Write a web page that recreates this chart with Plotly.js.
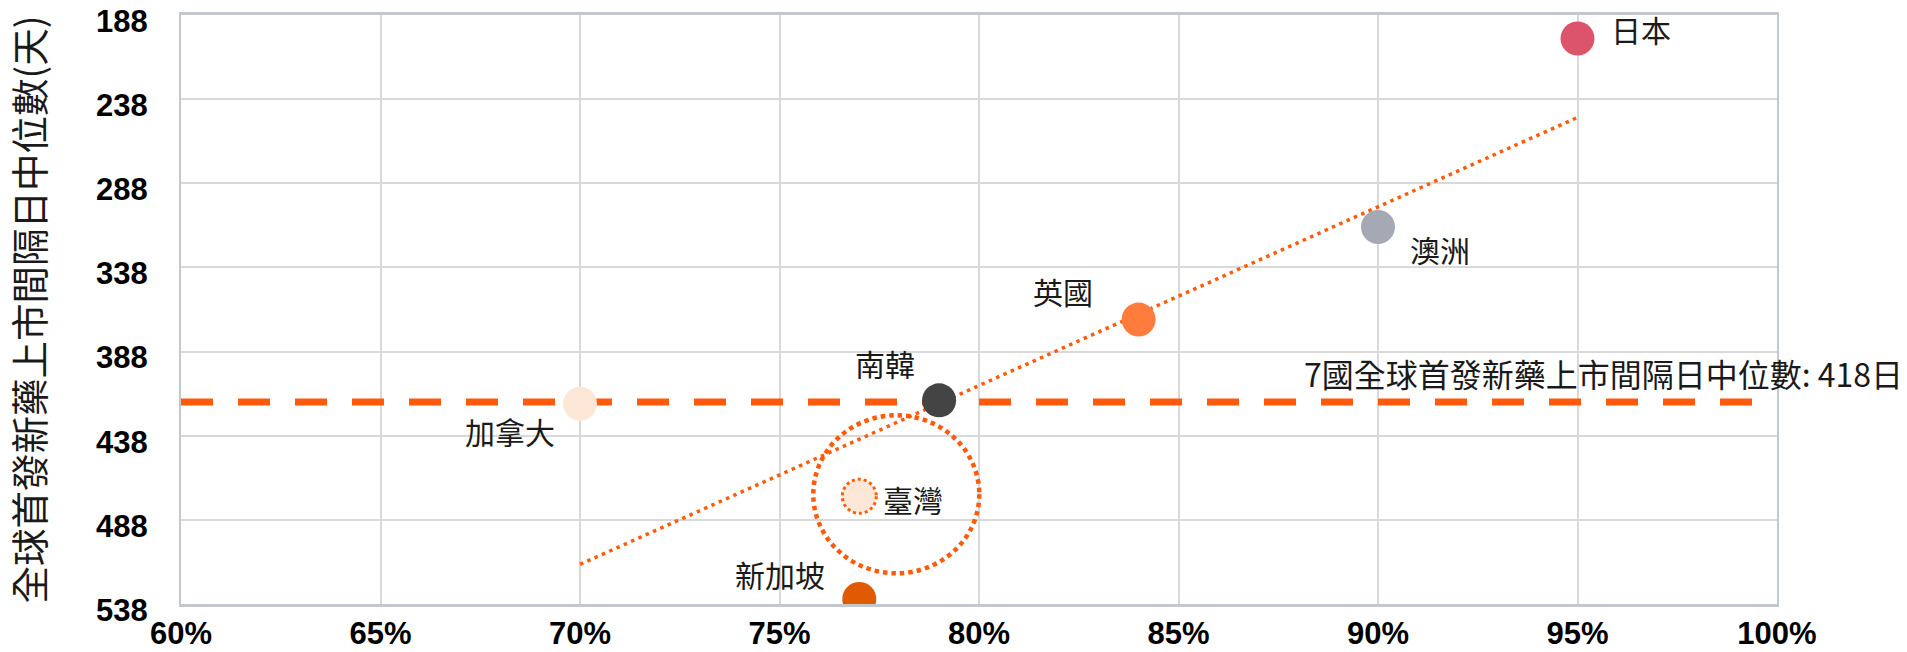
<!DOCTYPE html>
<html>
<head>
<meta charset="utf-8">
<script src="https://cdn.plot.ly/plotly-3.0.1.min.js"></script>
<style>
  html, body { margin: 0; padding: 0; background: #ffffff; }
  #chart { width: 1907px; height: 652px; }
</style>
</head>
<body>
<div id="chart"></div>
<script>
// ---- data ----
const categories = ['日本', '澳洲', '英國', '南韓', '加拿大', '臺灣', '新加坡'];
const launchShare = [95, 90, 84, 79, 70, 77, 77];          // x, percent
const medianLagDays = [202, 314, 369, 417, 419, 474, 535]; // y, days
const pointColors = ['#DC546B', '#A4A9B4', '#FF7C3C', '#444444', '#FDE7D7', '#FDE7D7', '#DF5A00'];
const medianAllDays = 418;
const medianLabel = '7國全球首發新藥上市間隔日中位數: 418日';
const xTickVals = [60, 65, 70, 75, 80, 85, 90, 95, 100];
const xTickText = ['60%', '65%', '70%', '75%', '80%', '85%', '90%', '95%', '100%'];
const yTickVals = [188, 238, 288, 338, 388, 438, 488, 538];
const yTickText = ['188', '238', '288', '338', '388', '438', '488', '538'];
const yTitle = '全球首發新藥上市間隔日中位數(天)';
const highlight = '臺灣';

// ---- styling / placement (not data) ----
const labelPlacement = {
  '日本':  {xanchor: 'left',  xshift: 31,  yshift: 10},
  '澳洲':  {xanchor: 'left',  xshift: 30,  yshift: -22},
  '英國':  {xanchor: 'right', xshift: -44, yshift: 29},
  '南韓':  {xanchor: 'right', xshift: -22, yshift: 37},
  '加拿大': {xanchor: 'right', xshift: -23, yshift: -27},
  '臺灣':  {xanchor: 'left',  xshift: 22,  yshift: -3},
  '新加坡': {xanchor: 'right', xshift: -32, yshift: 25}
};
const ORANGE = '#FF5A0A';
const CJK = '"Noto Sans CJK TC", "Noto Sans CJK SC", sans-serif';
const NUM = '"Liberation Sans", Arial, sans-serif';

// least-squares trend line through all points
const n = launchShare.length;
const mx = launchShare.reduce((a, b) => a + b, 0) / n;
const my = medianLagDays.reduce((a, b) => a + b, 0) / n;
let sxy = 0, sxx = 0;
for (let i = 0; i < n; i++) {
  sxy += (launchShare[i] - mx) * (medianLagDays[i] - my);
  sxx += (launchShare[i] - mx) ** 2;
}
const slope = sxy / sxx;
const icpt = my - slope * mx;
const xMin = Math.min(...launchShare), xMax = Math.max(...launchShare);
const trendX = [xMin, xMax];
const trendY = trendX.map(v => icpt + slope * v);

const xRange = [xTickVals[0], xTickVals[xTickVals.length - 1]];
const yRange = [yTickVals[yTickVals.length - 1], yTickVals[0]];

const traces = [
  {
    x: xRange, y: [medianAllDays, medianAllDays],
    mode: 'lines', type: 'scatter', hoverinfo: 'skip',
    line: {color: ORANGE, width: 7, dash: '32px,25px'}
  },
  {
    x: trendX, y: trendY,
    mode: 'lines', type: 'scatter', hoverinfo: 'skip',
    line: {color: ORANGE, width: 3.5, dash: '3.5px,4.5px'}
  },
  {
    x: launchShare, y: medianLagDays, text: categories,
    mode: 'markers', type: 'scatter',
    marker: {size: 34, color: pointColors, line: {width: 0}}
  }
];

const hi = categories.indexOf(highlight);

const annotations = categories.map((c, i) => ({
  x: launchShare[i], y: medianLagDays[i], xref: 'x', yref: 'y',
  text: c, showarrow: false,
  xanchor: labelPlacement[c].xanchor, yanchor: 'middle',
  xshift: labelPlacement[c].xshift, yshift: labelPlacement[c].yshift,
  font: {family: CJK, size: 30, color: '#1a1a1a'}
}));
annotations.push({
  xref: 'paper', x: 1, yref: 'y', y: medianAllDays,
  xanchor: 'right', yanchor: 'middle', xshift: 128, yshift: 29,
  text: medianLabel, showarrow: false,
  font: {family: CJK, size: 32, color: '#1a1a1a'}
});

const shapes = [
  { // dotted ring on highlighted point
    type: 'circle', layer: 'above',
    xref: 'x', yref: 'y', xsizemode: 'pixel', ysizemode: 'pixel',
    xanchor: launchShare[hi], yanchor: medianLagDays[hi],
    x0: -17, x1: 17, y0: -17, y1: 17,
    line: {color: ORANGE, width: 3, dash: '3px,3px'}
  },
  { // big dotted highlight circle
    type: 'circle', layer: 'above',
    xref: 'x', yref: 'y', xsizemode: 'pixel', ysizemode: 'pixel',
    xanchor: launchShare[hi], yanchor: medianLagDays[hi],
    x0: -46, x1: 120, y0: -77, y1: 81,
    line: {color: ORANGE, width: 4.5, dash: '4.5px,4px'}
  }
];

const layout = {
  width: 1907, height: 652,
  margin: {l: 181, r: 130, t: 15, b: 48, pad: 0},
  paper_bgcolor: '#ffffff', plot_bgcolor: '#ffffff',
  showlegend: false,
  xaxis: {
    range: xRange, tickvals: xTickVals, ticktext: xTickText,
    showgrid: true, gridcolor: '#D9D9D9', gridwidth: 2,
    zeroline: false, showline: true, mirror: true,
    linecolor: '#C3C7CE', linewidth: 2.5,
    ticks: '', ticklabelstandoff: 0, ticklabeloverflow: 'allow',
    tickfont: {family: NUM, size: 31, color: '#000000', weight: 'bold'}
  },
  yaxis: {
    range: yRange, tickvals: yTickVals, ticktext: yTickText,
    showgrid: true, gridcolor: '#D9D9D9', gridwidth: 2,
    zeroline: false, showline: true, mirror: true,
    linecolor: '#C3C7CE', linewidth: 2,
    ticks: '', ticklabelstandoff: 25, ticklabeloverflow: 'allow',
    ticklabelshift: -6,
    tickfont: {family: NUM, size: 31, color: '#000000', weight: 'bold'},
    title: {text: yTitle, standoff: 40, font: {family: CJK, size: 37.5, color: '#1a1a1a'}}
  },
  annotations: annotations,
  shapes: shapes
};

Plotly.newPlot('chart', traces, layout, {displayModeBar: false, responsive: false});
</script>
</body>
</html>
